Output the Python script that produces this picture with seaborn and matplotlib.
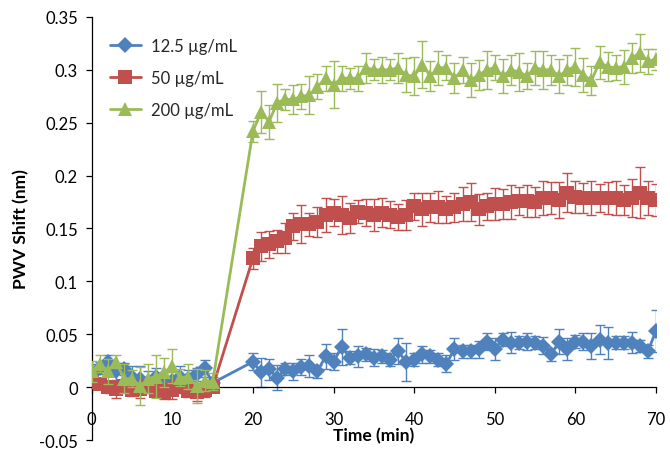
import matplotlib
matplotlib.use("Agg")
import matplotlib.pyplot as plt
import matplotlib.ticker as mticker
import seaborn as sns

# Time points (min): baseline then after injection
times = list(range(0, 16)) + list(range(20, 71))

# 12.5 ug/mL
low_vals = [
    0.012, 0.018, 0.024, 0.015, 0.017, 0.010, 0.008, 0.005, 0.010, 0.008,
    0.006, 0.010, 0.008, 0.012, 0.018, 0.004,
    0.024, 0.014, 0.017, 0.009, 0.017, 0.015, 0.019, 0.020, 0.015, 0.029,
    0.024, 0.038, 0.028, 0.029, 0.031, 0.028, 0.029, 0.026, 0.034, 0.024,
    0.026, 0.031, 0.029, 0.026, 0.022, 0.036, 0.034, 0.034, 0.036, 0.043,
    0.036, 0.045, 0.042, 0.042, 0.043, 0.042, 0.039, 0.031, 0.043, 0.036,
    0.043, 0.043, 0.039, 0.045, 0.042, 0.042, 0.042, 0.042, 0.039, 0.034,
    0.053,
]
low_err = [
    0.010, 0.006, 0.006, 0.008, 0.006, 0.010, 0.012, 0.010, 0.008, 0.006,
    0.008, 0.010, 0.008, 0.006, 0.008, 0.006,
    0.008, 0.014, 0.010, 0.012, 0.006, 0.008, 0.008, 0.010, 0.006, 0.012,
    0.008, 0.017, 0.006, 0.010, 0.006, 0.008, 0.006, 0.006, 0.012, 0.018,
    0.006, 0.008, 0.006, 0.006, 0.008, 0.010, 0.006, 0.006, 0.008, 0.008,
    0.010, 0.006, 0.010, 0.006, 0.008, 0.006, 0.008, 0.006, 0.012, 0.010,
    0.006, 0.008, 0.012, 0.014, 0.015, 0.006, 0.006, 0.010, 0.006, 0.006,
    0.020,
]

# 50 ug/mL
mid_vals = [
    0.005, 0.003, 0.000, -0.002, 0.001, -0.003, -0.002, 0.000, -0.004, -0.005,
    -0.003, 0.000, -0.004, -0.005, -0.003, 0.000,
    0.122, 0.133, 0.135, 0.138, 0.141, 0.152, 0.154, 0.154, 0.156, 0.163,
    0.165, 0.163, 0.160, 0.166, 0.165, 0.163, 0.165, 0.163, 0.161, 0.163,
    0.171, 0.168, 0.170, 0.170, 0.168, 0.170, 0.173, 0.175, 0.168, 0.171,
    0.173, 0.173, 0.175, 0.176, 0.176, 0.175, 0.179, 0.179, 0.177, 0.184,
    0.180, 0.179, 0.179, 0.179, 0.179, 0.179, 0.177, 0.179, 0.184, 0.179,
    0.177,
]
mid_err = [
    0.006, 0.005, 0.006, 0.008, 0.006, 0.005, 0.008, 0.006, 0.005, 0.006,
    0.008, 0.006, 0.005, 0.008, 0.006, 0.005,
    0.010, 0.014, 0.013, 0.011, 0.014, 0.013, 0.018, 0.011, 0.014, 0.016,
    0.013, 0.018, 0.014, 0.011, 0.013, 0.015, 0.014, 0.013, 0.012, 0.014,
    0.013, 0.016, 0.014, 0.015, 0.013, 0.014, 0.016, 0.018, 0.015, 0.013,
    0.015, 0.014, 0.016, 0.013, 0.015, 0.014, 0.016, 0.015, 0.017, 0.018,
    0.015, 0.014, 0.016, 0.013, 0.015, 0.016, 0.014, 0.018, 0.024, 0.016,
    0.015,
]

# 200 ug/mL
high_vals = [
    0.015, 0.022, 0.015, 0.024, 0.008, 0.008, 0.001, 0.008, 0.010, 0.014,
    0.020, 0.009, 0.010, 0.001, 0.006, 0.005,
    0.242, 0.260, 0.251, 0.269, 0.272, 0.272, 0.275, 0.276, 0.284, 0.292,
    0.286, 0.292, 0.292, 0.292, 0.302, 0.300, 0.300, 0.300, 0.302, 0.295,
    0.294, 0.305, 0.294, 0.302, 0.302, 0.292, 0.300, 0.290, 0.295, 0.300,
    0.302, 0.294, 0.300, 0.298, 0.294, 0.302, 0.300, 0.300, 0.294, 0.300,
    0.303, 0.295, 0.290, 0.307, 0.303, 0.302, 0.303, 0.311, 0.316, 0.308,
    0.310,
]
high_err = [
    0.010, 0.008, 0.012, 0.006, 0.014, 0.008, 0.018, 0.014, 0.020, 0.014,
    0.016, 0.008, 0.012, 0.016, 0.010, 0.008,
    0.010, 0.020, 0.016, 0.018, 0.010, 0.014, 0.012, 0.018, 0.012, 0.012,
    0.022, 0.012, 0.010, 0.012, 0.014, 0.010, 0.012, 0.010, 0.014, 0.016,
    0.018, 0.022, 0.014, 0.016, 0.012, 0.014, 0.012, 0.016, 0.014, 0.018,
    0.012, 0.016, 0.014, 0.018, 0.012, 0.016, 0.018, 0.014, 0.016, 0.014,
    0.018, 0.016, 0.014, 0.016, 0.014, 0.012, 0.016, 0.014, 0.018, 0.012,
    0.010,
]

series = [
    ("12.5 \u00b5g/mL", low_vals, low_err, "#4F81BD", "D", 8),
    ("50 \u00b5g/mL", mid_vals, mid_err, "#C0504D", "s", 10),
    ("200 \u00b5g/mL", high_vals, high_err, "#9BBB59", "^", 10.5),
]

sns.set_theme(style="white")
plt.rcParams["font.family"] = ["Lato", "DejaVu Sans"]

fig = plt.figure(figsize=(6.7, 4.52), dpi=100)
ax = fig.add_axes([0.137, 0.0243, 0.842, 0.936])

for i, (label, vals, err, color, marker, ms) in enumerate(series):
    z = 2 + i
    ax.errorbar(times, vals, yerr=err, fmt="none", ecolor=color,
                elinewidth=1, capsize=3.5, capthick=1, zorder=z)
    sns.lineplot(x=times, y=vals, ax=ax, color=color, marker=marker,
                 markersize=ms, markeredgewidth=0, linewidth=2,
                 label=label, zorder=z)

ax.set_xlim(0, 70)
ax.set_ylim(-0.05, 0.35)
ax.set_xticks(range(0, 71, 10))
ax.set_yticks([-0.05, 0, 0.05, 0.1, 0.15, 0.2, 0.25, 0.3, 0.35])
ax.yaxis.set_major_formatter(mticker.FuncFormatter(lambda v, p: f"{v:g}"))

ax.spines["top"].set_visible(False)
ax.spines["right"].set_visible(False)
ax.spines["bottom"].set_position(("data", 0))
for s in ("left", "bottom"):
    ax.spines[s].set_color("black")
    ax.spines[s].set_linewidth(0.9)

ax.tick_params(axis="both", which="major", direction="out", length=4,
               width=0.9, color="black", labelsize=12, labelcolor="black",
               left=True, bottom=True)
ax.tick_params(axis="x", pad=13)
ax.tick_params(axis="y", pad=6)

ax.set_xlabel("Time (min)", fontsize=12.5, fontweight="bold", color="black")
ax.xaxis.set_label_coords(0.5, 0.03)
ax.set_ylabel("PWV Shift (nm)", fontsize=12.5, fontweight="bold",
              color="black", labelpad=7)

leg = ax.legend(loc="upper left", bbox_to_anchor=(0.005, 0.985), frameon=False,
                fontsize=12, labelspacing=0.95, handlelength=1.9,
                handletextpad=0.6)

fig.savefig("out.png", dpi=100)
plt.close(fig)
